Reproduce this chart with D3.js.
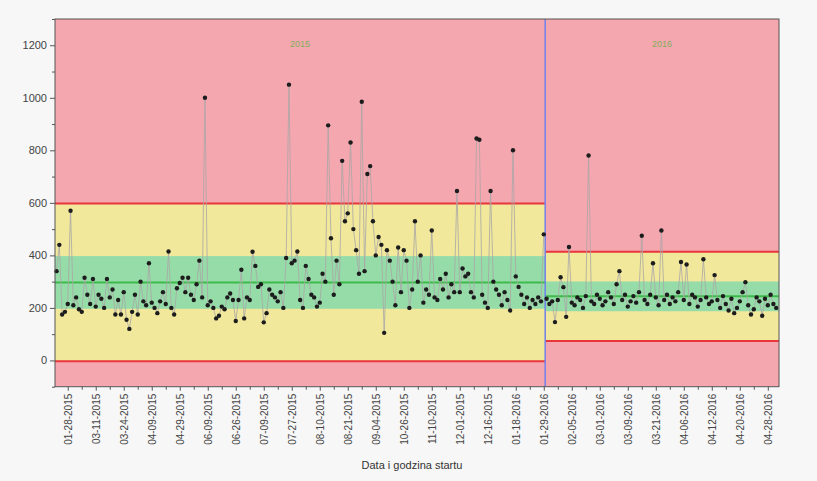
<!DOCTYPE html>
<html>
<head>
<meta charset="utf-8">
<script src="https://cdn.jsdelivr.net/npm/d3@7"></script>
<style>
  body { margin: 0; background: #f7f7f7; }
  svg { display: block; }
  text { font-family: Arial, "Liberation Sans", sans-serif; }
</style>
</head>
<body>
<svg id="chart" width="817" height="481"></svg>
<script>
// ---------------- DATA ----------------
const phase1Values = [
  340, 440, 175, 185, 215, 570, 210, 240, 195, 185,
  315, 250, 215, 310, 205, 250, 235, 200, 310, 240,
  270, 175, 230, 175, 260, 155, 120, 185, 250, 175,
  300, 225, 210, 370, 220, 200, 180, 225, 260, 215,
  415, 200, 175, 275, 295, 315, 260, 315, 250, 230,
  290, 380, 240, 1000, 210, 225, 200, 160, 170, 205,
  195, 240, 255, 230, 150, 230, 345, 160, 240, 230,
  414, 360, 280, 290, 145, 180, 270, 250, 240, 225,
  260, 200, 390, 1050, 370, 380, 415, 230, 200, 360,
  310, 250, 240, 205, 220, 330, 300, 895, 465, 250,
  380, 290, 760, 530, 560, 830, 500, 420, 330, 985,
  340, 710, 740, 530, 400, 470, 440, 105, 420, 380,
  300, 210, 430, 260, 420, 380, 200, 270, 530, 300,
  400, 220, 270, 250, 495, 240, 230, 310, 270, 330,
  240, 290, 260, 645, 260, 350, 320, 330, 260, 240,
  845, 840, 250, 220, 200, 645, 300, 270, 250, 210,
  260, 230, 190, 800, 320, 280, 250, 215, 240, 200,
  230, 215, 240, 225, 480
];
const phase2Values = [
  235, 215, 225, 146, 230, 317, 279, 166, 432, 220,
  210, 240, 230, 200, 245, 780, 225, 215, 250, 235,
  210, 225, 260, 240, 215, 290, 340, 230, 250, 205,
  225, 245, 220, 260, 475, 230, 215, 250, 370, 240,
  210, 495, 230, 250, 215, 240, 225, 260, 375, 230,
  365, 215, 250, 240, 205, 230, 385, 240, 215, 225,
  325, 230, 200, 245, 215, 190, 235, 180, 200, 225,
  260, 298, 210, 175, 195, 240, 225, 170, 235, 210,
  250, 215, 200
];
const dateLabels = ["01-28-2015","03-11-2015","03-24-2015","04-09-2015","04-29-2015","06-09-2015",
  "06-26-2015","07-09-2015","07-27-2015","08-10-2015","08-21-2015","09-04-2015","10-26-2015",
  "11-10-2015","12-01-2015","12-16-2015","01-18-2016","01-29-2016","02-05-2016","03-01-2016",
  "03-09-2016","03-21-2016","04-06-2016","04-12-2016","04-20-2016","04-28-2016"];
const yTickValues = [0, 200, 400, 600, 800, 1000, 1200];
const phaseNames = ["2015", "2016"];
const phaseLCL = [-3, 74];
const phaseCL = [297, 244];
const phaseUCL = [598, 414];
const xAxisTitle = "Data i godzina startu";

// ---------------- LAYOUT ----------------
const svg = d3.select("#chart");
const pLeft = 55, pRight = 779, pTop = 19, pBottom = 386.7;
const allValues = phase1Values.concat(phase2Values);
const data = allValues.map((v, i) => ({ i, v, phase: i < phase1Values.length ? 0 : 1 }));

const x = d3.scaleLinear().domain([-0.55, 258]).range([pLeft, pRight]);
const y = d3.scaleLinear().domain([-100, 1300]).range([pBottom, pTop]);

const split = phase1Values.length - 0.5;
const phaseRanges = [[x.domain()[0], split], [split, x.domain()[1]]];

svg.append("rect").attr("width", 817).attr("height", 481).attr("fill", "#f7f7f7");

const bgG = svg.append("g");
phaseRanges.forEach((r, p) => {
  const x0 = x(r[0]), x1 = x(r[1]);
  const sigma = (phaseUCL[p] - phaseCL[p]) / 3;
  bgG.append("rect").attr("x", x0).attr("y", pTop).attr("width", x1 - x0).attr("height", pBottom - pTop)
    .attr("fill", "#f5a7b0");
  bgG.append("rect").attr("x", x0).attr("y", y(phaseUCL[p])).attr("width", x1 - x0)
    .attr("height", y(phaseLCL[p]) - y(phaseUCL[p])).attr("fill", "#f1e89c");
  bgG.append("rect").attr("x", x0).attr("y", y(phaseCL[p] + sigma)).attr("width", x1 - x0)
    .attr("height", y(phaseCL[p] - sigma) - y(phaseCL[p] + sigma)).attr("fill", "#96dca9");
  [phaseUCL[p], phaseLCL[p]].forEach(v => {
    bgG.append("line").attr("x1", x0).attr("x2", x1).attr("y1", y(v)).attr("y2", y(v))
      .attr("stroke", "#e8363c").attr("stroke-width", 2);
  });
  bgG.append("line").attr("x1", x0).attr("x2", x1).attr("y1", y(phaseCL[p])).attr("y2", y(phaseCL[p]))
    .attr("stroke", "#3dbb4a").attr("stroke-width", 2);
  bgG.append("text").attr("x", (x0 + x1) / 2).attr("y", 47).attr("text-anchor", "middle")
    .attr("font-size", 9).attr("fill", "#7fae5a").text(phaseNames[p]);
});

// phase separator
svg.append("line").attr("x1", x(split)).attr("x2", x(split)).attr("y1", pTop).attr("y2", pBottom)
  .attr("stroke", "#6f80ea").attr("stroke-width", 1.5);

// connecting line per phase
[0, 1].forEach(p => {
  const pts = data.filter(d => d.phase === p);
  svg.append("path").datum(pts)
    .attr("d", d3.line().x(d => x(d.i)).y(d => y(d.v)))
    .attr("fill", "none").attr("stroke", "#aaa6a6").attr("stroke-width", 1).attr("opacity", 0.8);
});

svg.append("g").selectAll("circle").data(data).join("circle")
  .attr("cx", d => x(d.i)).attr("cy", d => y(d.v)).attr("r", 2.2)
  .attr("fill", "#1c1c1c");

// frame
svg.append("rect").attr("x", pLeft).attr("y", pTop).attr("width", pRight - pLeft).attr("height", pBottom - pTop)
  .attr("fill", "none").attr("stroke", "#555").attr("stroke-width", 1);

// y axis
const yAxis = d3.axisLeft(y).tickValues(yTickValues).tickSize(5).tickPadding(3).tickFormat(d3.format("d"));
const yg = svg.append("g").attr("transform", `translate(${pLeft},0)`).call(yAxis);
yg.select(".domain").remove();
yg.selectAll("line").attr("stroke", "#555");
yg.selectAll("text").attr("font-size", 11).attr("fill", "#444");
const yMinor = d3.axisLeft(y).tickValues(d3.range(-100, 1301, 200)).tickSize(3).tickFormat("");
const ym = svg.append("g").attr("transform", `translate(${pLeft},0)`).call(yMinor);
ym.select(".domain").remove();
ym.selectAll("line").attr("stroke", "#555");

// x axis
const labelIdx = dateLabels.map((_, k) => 4 + 10 * k);
const xAxis = d3.axisBottom(x).tickValues(labelIdx).tickSize(4)
  .tickFormat((d, k) => dateLabels[k]);
const xg = svg.append("g").attr("transform", `translate(0,${pBottom})`).call(xAxis);
xg.select(".domain").remove();
xg.selectAll("line").attr("stroke", "#555");
xg.selectAll("text").attr("font-size", 10).attr("fill", "#444")
  .attr("transform", "rotate(-90)").attr("text-anchor", "end")
  .attr("x", -7).attr("y", 0).attr("dy", "0.35em");
const xMinor = d3.axisBottom(x).tickValues(labelIdx.map(v => v + 5).filter(v => v < 258)).tickSize(3).tickFormat("");
const xm = svg.append("g").attr("transform", `translate(0,${pBottom})`).call(xMinor);
xm.select(".domain").remove();
xm.selectAll("line").attr("stroke", "#555");

svg.append("text").attr("x", (pLeft + pRight) / 2 - 5).attr("y", 469).attr("text-anchor", "middle")
  .attr("font-size", 11).attr("fill", "#333").text(xAxisTitle);
</script>
</body>
</html>
